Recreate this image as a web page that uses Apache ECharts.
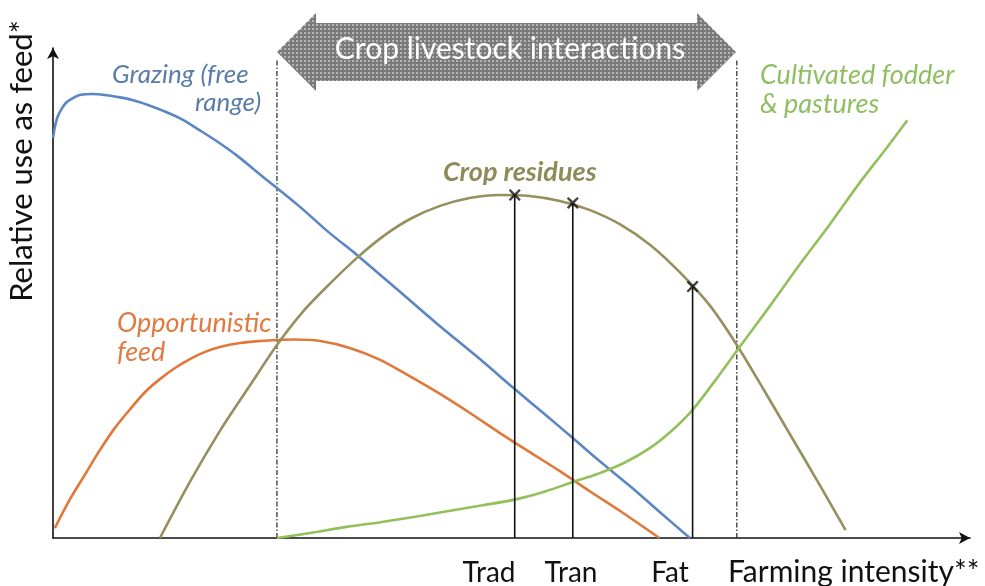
<!DOCTYPE html>
<html>
<head>
<meta charset="utf-8">
<script src="https://cdn.jsdelivr.net/npm/echarts@6/dist/echarts.min.js"></script>
<style>
  html, body { margin: 0; padding: 0; background: #ffffff; }
  #chart { width: 985px; height: 586px; }
</style>
</head>
<body>
<div id="chart"></div>
<script>
// Relative use of feed sources along a farming-intensity gradient (conceptual curves)
// x: farming intensity (0-100), y: relative use as feed (0-100)

const grazing = [
  [0, 80.8], [0.2, 83.0], [0.5, 85.1], [1.0, 86.9], [1.5, 88.1], [2.2, 88.9], [2.9, 89.5],
  [4.3, 89.7], [5.6, 89.5], [7.0, 89.1], [8.6, 88.5], [10.3, 87.5], [12.1, 86.2], [14.0, 84.6],
  [15.9, 82.4], [17.9, 80.0], [20.0, 77.2], [22.1, 74.0], [24.3, 70.7], [26.8, 66.9],
  [29.9, 61.8], [33.1, 57.0], [37.3, 50.3], [41.6, 43.4], [45.9, 36.8], [50.1, 30.1],
  [53.3, 25.1], [56.4, 20.2], [59.4, 15.4], [62.6, 10.5], [65.8, 5.3], [69.1, 0]
];

const opportunistic = [
  [0.2, 2.0], [1.8, 7.7], [3.5, 12.9], [5.1, 17.8], [6.7, 22.2], [8.4, 26.1], [10.0, 29.5],
  [11.6, 32.1], [13.2, 34.3], [14.9, 36.2], [16.5, 37.6], [18.1, 38.6], [20.3, 39.4],
  [22.5, 39.8], [24.3, 40.0], [26.2, 40.1], [29.0, 39.8], [32.2, 38.4], [35.5, 36.0],
  [38.7, 32.7], [42.0, 29.1], [45.2, 25.3], [48.5, 21.2], [51.7, 17.4], [55.0, 13.5],
  [58.2, 9.5], [61.5, 5.5], [65.8, 0]
];

const cropResidues = [
  [11.6, 0], [14.9, 11.5], [18.1, 21.6], [21.4, 30.9], [24.3, 39.0], [27.1, 45.7],
  [30.0, 51.3], [33.1, 56.8], [36.0, 61.2], [38.9, 64.6], [42.0, 67.1], [45.2, 68.7],
  [48.5, 69.3], [51.7, 69.1], [55.0, 68.1], [58.2, 66.3], [61.5, 63.4], [64.8, 59.2],
  [68.0, 53.7], [71.3, 46.9], [74.2, 39.0], [77.2, 29.7], [80.2, 20.2], [83.2, 10.7],
  [86.0, 1.6]
];

const cultivatedFodder = [
  [24.3, 0], [27.9, 1.0], [31.7, 2.2], [35.5, 3.2], [39.3, 4.3], [43.1, 5.5], [46.6, 6.6],
  [50.2, 7.8], [53.4, 9.4], [56.4, 11.3], [59.3, 13.1], [62.0, 15.2], [64.8, 18.2],
  [67.1, 21.6], [69.4, 25.9], [71.8, 31.7], [74.5, 38.6], [77.8, 46.9], [81.0, 55.2],
  [84.3, 63.4], [87.5, 71.7], [90.2, 78.2], [92.7, 84.4]
];

// Production systems marked on the crop-residue curve
const stageNames = ['Trad', 'Tran', 'Fat'];
const stageX = [50.1, 56.4, 69.4];
const stageResidue = [69.3, 67.7, 50.8];

// Bounds of the crop-livestock interaction zone
const zoneBounds = [24.3, 74.2];
const zoneTop = 96.5;

const seriesNames = ['Grazing (free range)', 'Opportunistic feed', 'Crop residues', 'Cultivated fodder & pastures'];
const seriesColors = ['#5b86c4', '#e0783a', '#968f5e', '#92c15c'];

const FONT = 'Lato, "Open Sans", sans-serif';

// Dotted grey texture for the double arrow
const tex = document.createElement('canvas');
tex.width = 4; tex.height = 4;
const tctx = tex.getContext('2d');
tctx.fillStyle = '#7a7a7a';
tctx.fillRect(0, 0, 4, 4);
tctx.fillStyle = '#b4b4b4';
tctx.fillRect(0, 0, 2, 2);

const chart = echarts.init(document.getElementById('chart'), null, { renderer: 'canvas' });

function curve(name, data, color) {
  return {
    name: name,
    type: 'line',
    data: data,
    smooth: 0.3,
    symbol: 'none',
    lineStyle: { color: color, width: 2.6 },
    z: 3,
    silent: true
  };
}

const series = [
  curve(seriesNames[0], grazing, seriesColors[0]),
  curve(seriesNames[1], opportunistic, seriesColors[1]),
  curve(seriesNames[2], cropResidues, seriesColors[2]),
  curve(seriesNames[3], cultivatedFodder, seriesColors[3])
];

// Vertical drop lines for each production system
stageNames.forEach(function (n, i) {
  series.push({
    name: n,
    type: 'line',
    data: [[stageX[i], 0], [stageX[i], stageResidue[i]]],
    symbol: 'none',
    lineStyle: { color: '#111111', width: 1.6 },
    z: 4,
    silent: true
  });
});

// Cross markers on the crop-residue curve
series.push({
  name: 'markers',
  type: 'scatter',
  data: stageX.map(function (x, i) { return [x, stageResidue[i]]; }),
  symbol: 'path://M0,1.3 L1.3,0 L5,3.5 L8.7,0 L10,1.3 L6.5,5 L10,8.7 L8.7,10 L5,6.5 L1.3,10 L0,8.7 L3.5,5 Z',
  symbolSize: 12,
  itemStyle: { color: '#111111' },
  z: 5,
  silent: true
});

// Dash-dot boundaries of the interaction zone
zoneBounds.forEach(function (x, i) {
  series.push({
    name: 'bound' + i,
    type: 'line',
    data: [[x, 0], [x, zoneTop]],
    symbol: 'none',
    lineStyle: { color: '#222222', width: 1.2, type: [5, 2, 1.5, 2] },
    z: 2,
    silent: true
  });
});

function label(text, x, y, color, size, extra) {
  return {
    type: 'text', x: x, y: y, z: 11,
    style: Object.assign({ text: text, fill: color, fontSize: size, fontFamily: FONT,
      textAlign: 'left', textVerticalAlign: 'middle' }, extra || {})
  };
}

const option = {
  animation: false,
  backgroundColor: '#ffffff',
  grid: { left: 53, right: 15, top: 48, bottom: 48 },
  xAxis: {
    type: 'value', min: 0, max: 99.5,
    axisLine: { show: true, onZero: false, lineStyle: { color: '#111111', width: 1.6 },
      symbol: ['none', 'arrow'], symbolSize: [9, 11] },
    axisTick: { show: false }, axisLabel: { show: false }, splitLine: { show: false }
  },
  yAxis: {
    type: 'value', min: 0, max: 99,
    axisLine: { show: true, onZero: false, lineStyle: { color: '#111111', width: 1.6 },
      symbol: ['none', 'arrow'], symbolSize: [9, 11] },
    axisTick: { show: false }, axisLabel: { show: false }, splitLine: { show: false }
  },
  series: series,
  graphic: [
    {
      type: 'polygon',
      shape: { points: [[277, 52], [316, 13], [316, 23], [697, 23], [697, 13], [736, 52], [697, 91], [697, 81], [316, 81], [316, 91]] },
      style: { fill: { image: tex, repeat: 'repeat' } },
      z: 10
    },
    label('Crop livestock interactions', 510, 49, '#ffffff', 30, { textAlign: 'center' }),
    Object.assign(label('Relative use as feed*', 22, 161, '#111111', 31, { textAlign: 'center' }), { rotation: Math.PI / 2 }),
    label('Farming intensity**', 728, 572, '#111111', 30),
    label(stageNames[0], 489, 573, '#111111', 28, { textAlign: 'center' }),
    label(stageNames[1], 571, 573, '#111111', 28, { textAlign: 'center' }),
    label(stageNames[2], 670, 573, '#111111', 28, { textAlign: 'center' }),
    label('Grazing (free', 112, 75, '#5a7da8', 26, { fontStyle: 'italic' }),
    label('range)', 195, 103, '#5a7da8', 26, { fontStyle: 'italic' }),
    label('Opportunistic', 117, 323, '#e07a40', 27, { fontStyle: 'italic' }),
    label('feed', 117, 352, '#e07a40', 27, { fontStyle: 'italic' }),
    label('Crop residues', 443, 172, '#8f8b58', 27, { fontStyle: 'italic', fontWeight: 'bold' }),
    label('Cultivated fodder', 760, 75, '#8fbf62', 27, { fontStyle: 'italic' }),
    label('& pastures', 760, 104, '#8fbf62', 27, { fontStyle: 'italic' })
  ]
};

chart.setOption(option);
</script>
</body>
</html>
